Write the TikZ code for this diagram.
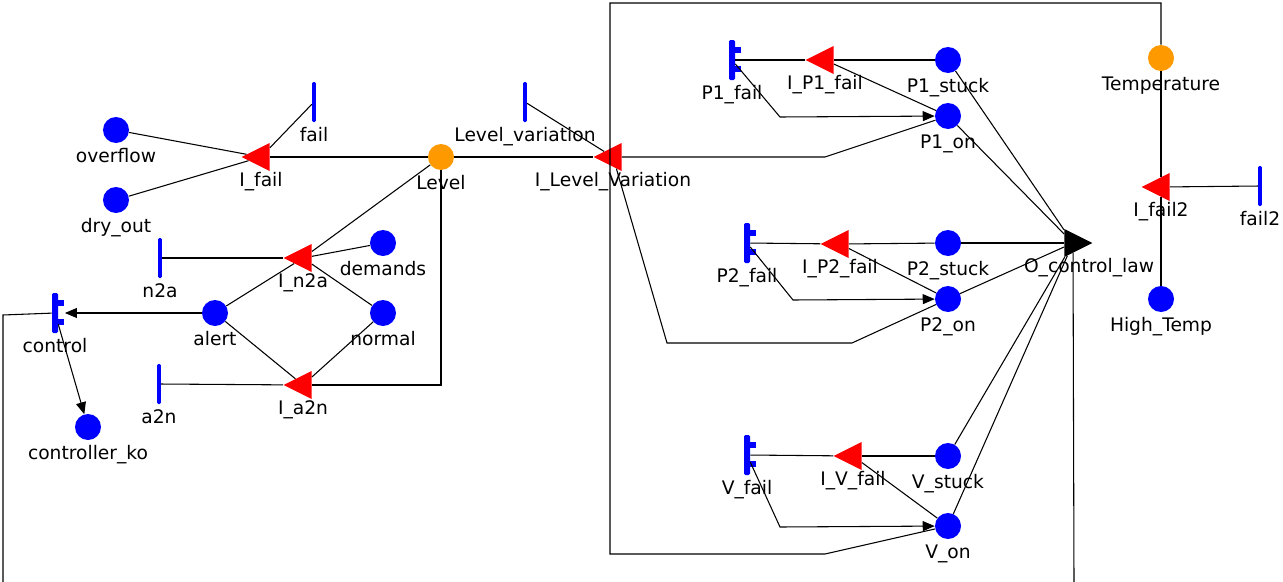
\documentclass[tikz,border=0pt]{standalone}
\usepackage{fontspec}
\setmainfont{DejaVu Sans}
\usepackage{tikz}
\usetikzlibrary{shapes.geometric,arrows.meta}
\definecolor{pblue}{rgb}{0,0,1}
\definecolor{pred}{rgb}{1,0,0}
\definecolor{porange}{rgb}{1,0.6,0}

\begin{document}
\begin{tikzpicture}[
  x = 0.75pt,
  y = -0.75pt,
  bplace/.style = {
    circle,
    fill = pblue,
    minimum size = 19.5pt,
    inner sep = 0pt,
  },
  oplace/.style = {
    bplace,
    fill = porange,
  },
  tbar/.style = {
    rectangle,
    rounded corners = 1pt,
    fill = pblue,
    minimum width = 2.8pt,
    minimum height = 30pt,
    inner sep = 0pt,
  },
  fbar/.style = {
    tbar,
    minimum width = 4.5pt,
  },
  itrans/.style = {
    isosceles triangle,
    isosceles triangle stretches,
    shape border rotate = 180,
    fill = pred,
    minimum width = 21pt,
    minimum height = 21pt,
    inner sep = 0pt,
  },
  otrans/.style = {
    itrans,
    shape border rotate = 0,
    fill = black,
  },
  link/.style = {
    draw,
    line width = 0.8pt,
  },
  every label/.style = {
    font = \fontsize{14}{16}\selectfont,
    text height = 10.5pt,
    text depth = 3pt,
    inner sep = 2pt,
    label distance = 2pt,
  },
  >={Triangle[length=9pt,width=7.5pt]},
]
  \useasboundingbox (0,0) rectangle (1283,582);

  % level
  \node[bplace,label=below:overflow] (overflow) at (116,130) {};
  \node[bplace,label=below:dry\_out] (dryout) at (116,200) {};
  \node[tbar,label=below:fail] (fail) at (314,102) {};
  \node[itrans,label=below:I\_fail] (Ifail) at (261,157) {};
  \node[oplace,label=below:Level] (level) at (441,157) {};
  \node[tbar,label=below:Level\_variation] (lvar) at (525,102) {};
  \node[itrans,label=below:I\_Level\_Variation] (Ilvar) at (613,157) {};

  % alert
  \node[tbar,label=below:n2a] (n2a) at (160,258) {};
  \node[itrans,label=below:I\_n2a] (In2a) at (303,258) {};
  \node[bplace,label=below:demands] (demands) at (383,243) {};
  \node[bplace,label=below:alert] (alert) at (215,313) {};
  \node[bplace,label=below:normal] (normal) at (383,313) {};
  \node[itrans,label=below:I\_a2n] (Ia2n) at (303,385) {};
  \node[tbar,label=below:a2n] (a2n) at (159,384) {};
  \node[fbar,label=below:control] (control) at (55,313) {};
  \node[bplace,label=below:controller\_ko] (ko) at (88,427) {};

  % pumps and valve
  \node[fbar,label=below:P1\_fail] (P1fail) at (732,60) {};
  \node[itrans,label=below:I\_P1\_fail] (IP1) at (825,60) {};
  \node[bplace,label=below:P1\_stuck] (P1stuck) at (948,60) {};
  \node[bplace,label=below:P1\_on] (P1on) at (948,116) {};

  \node[fbar,label=below:P2\_fail] (P2fail) at (747,243) {};
  \node[itrans,label=below:I\_P2\_fail] (IP2) at (840,244) {};
  \node[bplace,label=below:P2\_stuck] (P2stuck) at (948,243) {};
  \node[bplace,label=below:P2\_on] (P2on) at (948,299) {};

  \node[fbar,label=below:V\_fail] (Vfail) at (747,455) {};
  \node[itrans,label=below:I\_V\_fail] (IV) at (853,456) {};
  \node[bplace,label=below:V\_stuck] (Vstuck) at (948,456) {};
  \node[bplace,label=below:V\_on] (Von) at (948,526) {};

  \node[otrans,label={[xshift=12pt]below:O\_control\_law}] (olaw) at (1073,243) {};

  % temperature
  \node[oplace,label=below:Temperature] (temp) at (1161,58) {};
  \node[itrans,label=below:I\_fail2] (Ifail2) at (1161,187) {};
  \node[tbar,label=below:fail2] (fail2) at (1260,186) {};
  \node[bplace,label=below:High\_Temp] (high) at (1161,299) {};

  \coordinate (ctrlout) at (3,582);
  \coordinate (lawout) at (1074,582);

  \foreach \t in {control,P1fail,P2fail,Vfail} {
    \fill[pblue] ([yshift=9.5pt]\t.east) rectangle ++(6,6);
    \fill[pblue] ([yshift=-4.5pt]\t.east) rectangle ++(6,6);
  }

  \draw[link] (overflow) -- (Ifail);
  \draw[link] (dryout) -- (Ifail);
  \draw[link] (fail) -- (Ifail);
  \draw[link] (level) -- (Ifail);
  \draw[link] (level) -- (Ilvar);
  \draw[link] (lvar) -- (Ilvar);
  \draw[link] (Ilvar) -- (825,157) -- (P1on);
  \draw[link] (Ilvar) -- (667,343) -- (852,343) -- (P2on);

  \draw[link] (n2a) -- (In2a);
  \draw[link] (demands) -- (In2a);
  \draw[link] (alert) -- (In2a);
  \draw[link] (normal) -- (In2a);
  \draw[link] (level) -- (In2a);
  \draw[link] (alert) -- (Ia2n);
  \draw[link] (normal) -- (Ia2n);
  \draw[link] (a2n) -- (Ia2n);
  \draw[link] (Ia2n) -- (441,385) -- (level);
  \draw[link,->] (alert) -- ([xshift=5pt]control.east);
  \draw[link,->] (control) -- (ko);
  \draw[link] (control) -- (3,315) -- (ctrlout);

  \draw[link] (P1stuck) -- (IP1);
  \draw[link] (IP1) -- (P1fail);
  \draw[link] (P1on) -- (IP1);
  \draw[link,->] (P1fail) -- (780,117) -- (P1on);
  \draw[link] (P2stuck) -- (IP2);
  \draw[link] (IP2) -- (P2fail);
  \draw[link] (P2on) -- (IP2);
  \draw[link,->] (P2fail) -- (793,300) -- (P2on);
  \draw[link] (Vstuck) -- (IV);
  \draw[link] (IV) -- (Vfail);
  \draw[link] (Von) -- (IV);
  \draw[link,->] (Vfail) -- (780,527) -- (Von);

  \foreach \p in {P1stuck,P1on,P2stuck,P2on,Vstuck,Von}
    \draw[link] (\p) -- (olaw);
  \draw[link] (olaw) -- (lawout);

  \draw[link] (temp) -- (Ifail2);
  \draw[link] (Ifail2) -- (high);
  \draw[link] (fail2) -- (Ifail2);
  \draw[link] (temp) -- (1161,3) -- (610,3) -- (610,554) -- (825,554) -- (Von);

\end{tikzpicture}
\end{document}
